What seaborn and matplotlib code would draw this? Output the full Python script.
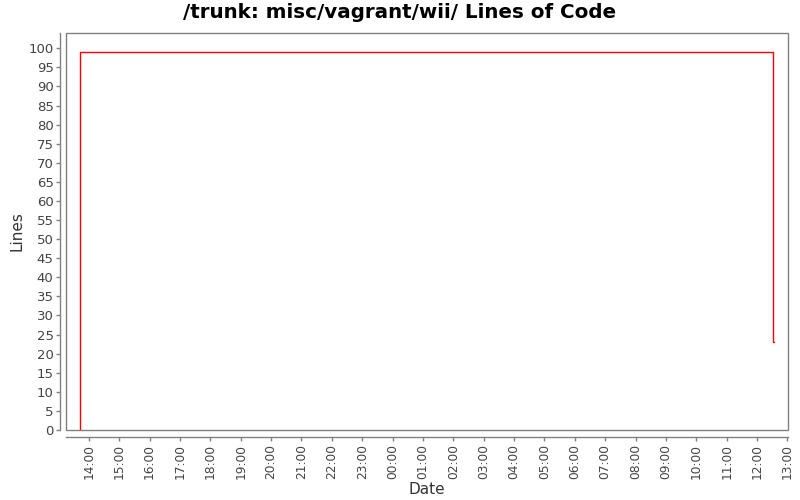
import matplotlib
matplotlib.use("Agg")
import matplotlib.pyplot as plt
import matplotlib.dates as mdates
from matplotlib.patches import Rectangle
import seaborn as sns
import pandas as pd

# data
times = ["2013-01-01 13:42", "2013-01-01 13:42", "2013-01-02 12:32", "2013-01-02 12:33"]
lines = [0, 99, 23, 23]
x_start = "2013-01-01 13:15"
x_end = "2013-01-02 13:01"
title = "/trunk: misc/vagrant/wii/ Lines of Code"

sns.set_theme(style="white")
plt.rcParams['font.family'] = ['DejaVu Sans']

df = pd.DataFrame({"Date": pd.to_datetime(times), "Lines": lines})

fig = plt.figure(figsize=(8, 5), dpi=100)
ax = fig.add_axes([0.0825, 0.14, 0.9025, 0.794])

sns.lineplot(data=df, x="Date", y="Lines", ax=ax, estimator=None, sort=False,
             drawstyle="steps-post", color="#ff0000", linewidth=1.0)

ax.set_xlim(pd.Timestamp(x_start), pd.Timestamp(x_end))
ax.set_ylim(0, 104)
ax.set_yticks(range(0, 101, 5))
ax.xaxis.set_major_locator(mdates.HourLocator())
ax.xaxis.set_major_formatter(mdates.DateFormatter("%H:%M"))

grey = "#808080"
for s in ["top", "right"]:
    ax.spines[s].set_visible(False)
ax.spines["left"].set_position(("outward", 4))
ax.spines["bottom"].set_position(("outward", 5))
for s in ["left", "bottom"]:
    ax.spines[s].set_color(grey)
    ax.spines[s].set_linewidth(1.0)
ax.add_patch(Rectangle((0, 0), 1, 1, transform=ax.transAxes, fill=False,
                       edgecolor=grey, linewidth=1.0, clip_on=False, zorder=5))

ax.tick_params(axis="both", which="major", length=3, width=1, color=grey,
               labelsize=9.5, labelcolor="#444444", direction="out",
               left=True, bottom=True)
ax.tick_params(axis="x", pad=2, labelrotation=90, labelsize=8.8)
ax.tick_params(axis="y", pad=2)

ax.set_xlabel("Date", fontsize=11, color="#333333", labelpad=2)
ax.set_ylabel("Lines", fontsize=11, color="#333333", labelpad=3)
fig.suptitle(title, x=0.5, y=0.995, va="top", fontsize=14.3,
             fontweight="bold", color="#000000")

fig.savefig("out.png", dpi=100, facecolor="white")
